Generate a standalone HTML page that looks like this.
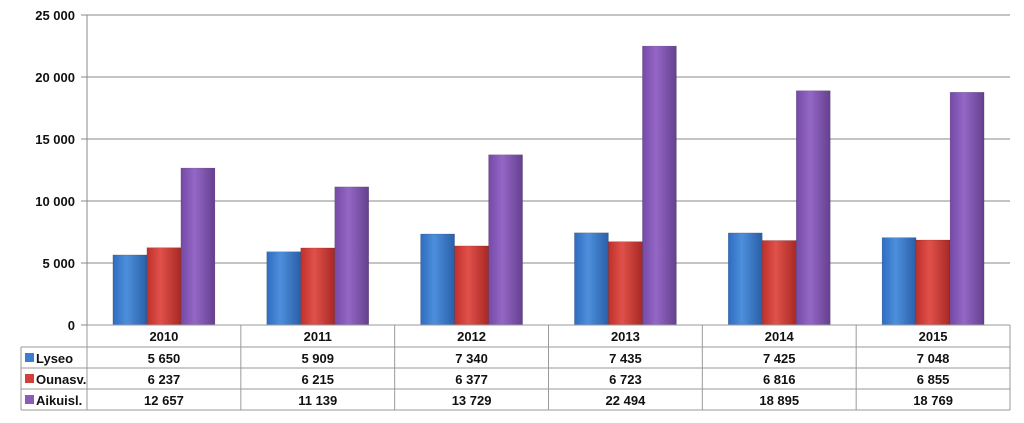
<!DOCTYPE html>
<html><head><meta charset="utf-8"><style>
body{margin:0;background:#fff;}
svg text{font-family:"Liberation Sans",sans-serif;font-weight:bold;font-size:13px;fill:#111;}
</style></head><body>
<svg id="c" width="1024" height="418" xmlns="http://www.w3.org/2000/svg">
<defs>
<linearGradient id="gb" x1="0" x2="1"><stop offset="0" stop-color="#2f6cc0"/><stop offset="0.4" stop-color="#4d8fdc"/><stop offset="1" stop-color="#2a5fa8"/></linearGradient>
<linearGradient id="gr" x1="0" x2="1"><stop offset="0" stop-color="#c0302b"/><stop offset="0.4" stop-color="#e0514a"/><stop offset="1" stop-color="#a82824"/></linearGradient>
<linearGradient id="gp" x1="0" x2="1"><stop offset="0" stop-color="#7549a6"/><stop offset="0.4" stop-color="#9467c6"/><stop offset="1" stop-color="#65408f"/></linearGradient>
</defs>
</svg>
<script>
const categories=["2010","2011","2012","2013","2014","2015"];
const seriesNames=["Lyseo","Ounasv.","Aikuisl."];
const lyseo=[5650,5909,7340,7435,7425,7048];
const ounasv=[6237,6215,6377,6723,6816,6855];
const aikuisl=[12657,11139,13729,22494,18895,18769];
const yTicks=[0,5000,10000,15000,20000,25000];
const series=[lyseo,ounasv,aikuisl];
const fills=["url(#gb)","url(#gr)","url(#gp)"];
const legendColors=["#3b7dd0","#d2403a","#8a5cb8"];
const svg=document.getElementById('c');
const NS="http://www.w3.org/2000/svg";
const x0=87,x1=1010,yTop=15,yBot=325,yMax=25000;
const cw=(x1-x0)/categories.length, bw=34;
const y=v=>yBot-(v/yMax)*(yBot-yTop);
const fmt=v=>String(v).replace(/\B(?=(\d{3})+(?!\d))/g,' ');
function mk(t,a){const e=document.createElementNS(NS,t);for(const k in a)e.setAttribute(k,a[k]);svg.appendChild(e);return e;}
yTicks.forEach(t=>{
 const l=mk('line',{x1:x0-6,x2:x1,y1:y(t),y2:y(t),stroke:'#8a8a8a','stroke-width':1});
 
 
 const tx=mk('text',{x:x0-12,y:y(t)+5,'text-anchor':'end'});tx.textContent=fmt(t);
 
 
});
const ax=mk('line',{x1:x0,x2:x0,y1:yTop,y2:yBot,stroke:'#8a8a8a'});


categories.forEach((c,i)=>{
 const cx=x0+cw*(i+0.5);
 series.forEach((s,j)=>{
  const bx=cx-1.5*bw+j*bw;
  const r=mk('rect',{x:bx,y:y(s[i]),width:bw,height:yBot-y(s[i]),fill:fills[j],stroke:'rgba(0,0,0,0.25)','stroke-width':0.5});
  
  
 });
});
// data table
const rows=[yBot,347,368,389,410];
const tl=21;
const g='#9a9a9a';
mk('line',{x1:x0,x2:x1,y1:rows[0],y2:rows[0],stroke:g});
for(let r=1;r<rows.length;r++) mk('line',{x1:tl,x2:x1,y1:rows[r],y2:rows[r],stroke:g});
mk('line',{x1:tl,x2:tl,y1:rows[1],y2:rows[4],stroke:g});
for(let i=0;i<=categories.length;i++) mk('line',{x1:x0+cw*i,x2:x0+cw*i,y1:rows[0],y2:rows[4],stroke:g});
categories.forEach((c,i)=>{
 const t=mk('text',{x:x0+cw*(i+0.5),y:rows[0]+16,'text-anchor':'middle'});t.textContent=c;
 
 
 series.forEach((s,j)=>{
  const v=mk('text',{x:x0+cw*(i+0.5),y:rows[j+1]+16,'text-anchor':'middle'});v.textContent=fmt(s[i]);
  
  
 });
});
seriesNames.forEach((n,j)=>{
 const k=mk('rect',{x:25,y:rows[j+1]+6,width:9,height:9,fill:legendColors[j]});
 
 
 const t=mk('text',{x:36,y:rows[j+1]+16});t.textContent=n;
 
 
});
</script>
</body></html>
